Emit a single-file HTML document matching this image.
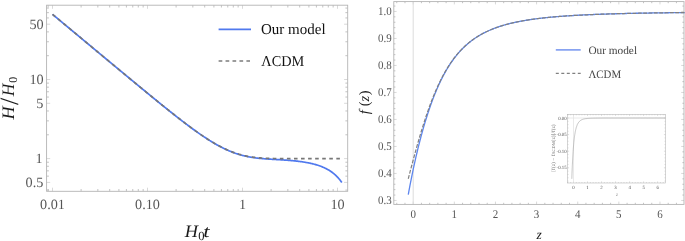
<!DOCTYPE html>
<html><head><meta charset="utf-8"><style>
html,body{margin:0;padding:0;background:#fff;overflow:hidden}
svg{display:block;will-change:transform}
text{font-family:"Liberation Serif",serif;text-rendering:geometricPrecision}
</style></head><body>
<svg width="685" height="241" viewBox="0 0 685 241"><rect width="685" height="241" fill="#fff"/><path d="M48.15 191.30v-2.30M48.15 5.20v2.30M81.10 191.30v-2.30M81.10 5.20v2.30M97.83 191.30v-2.30M97.83 5.20v2.30M109.70 191.30v-2.30M109.70 5.20v2.30M118.90 191.30v-2.30M118.90 5.20v2.30M126.42 191.30v-2.30M126.42 5.20v2.30M132.78 191.30v-2.30M132.78 5.20v2.30M138.29 191.30v-2.30M138.29 5.20v2.30M143.15 191.30v-2.30M143.15 5.20v2.30M176.10 191.30v-2.30M176.10 5.20v2.30M192.83 191.30v-2.30M192.83 5.20v2.30M204.70 191.30v-2.30M204.70 5.20v2.30M213.90 191.30v-2.30M213.90 5.20v2.30M221.42 191.30v-2.30M221.42 5.20v2.30M227.78 191.30v-2.30M227.78 5.20v2.30M233.29 191.30v-2.30M233.29 5.20v2.30M238.15 191.30v-2.30M238.15 5.20v2.30M271.10 191.30v-2.30M271.10 5.20v2.30M287.83 191.30v-2.30M287.83 5.20v2.30M299.70 191.30v-2.30M299.70 5.20v2.30M308.90 191.30v-2.30M308.90 5.20v2.30M316.42 191.30v-2.30M316.42 5.20v2.30M322.78 191.30v-2.30M322.78 5.20v2.30M328.29 191.30v-2.30M328.29 5.20v2.30M333.15 191.30v-2.30M333.15 5.20v2.30M46.60 190.08h2.30M347.70 190.08h-2.30M46.60 176.15h2.30M347.70 176.15h-2.30M46.60 170.85h2.30M347.70 170.85h-2.30M46.60 166.27h2.30M347.70 166.27h-2.30M46.60 162.22h2.30M347.70 162.22h-2.30M46.60 134.79h2.30M347.70 134.79h-2.30M46.60 120.86h2.30M347.70 120.86h-2.30M46.60 110.98h2.30M347.70 110.98h-2.30M46.60 97.05h2.30M347.70 97.05h-2.30M46.60 91.75h2.30M347.70 91.75h-2.30M46.60 87.17h2.30M347.70 87.17h-2.30M46.60 83.12h2.30M347.70 83.12h-2.30M46.60 55.69h2.30M347.70 55.69h-2.30M46.60 41.76h2.30M347.70 41.76h-2.30M46.60 31.88h2.30M347.70 31.88h-2.30M46.60 17.95h2.30M347.70 17.95h-2.30M46.60 12.65h2.30M347.70 12.65h-2.30M46.60 8.07h2.30M347.70 8.07h-2.30" stroke="#b4b4b4" stroke-width="0.8" fill="none"/><path d="M52.50 191.30v-3.60M52.50 5.20v3.60M147.50 191.30v-3.60M147.50 5.20v3.60M242.50 191.30v-3.60M242.50 5.20v3.60M337.50 191.30v-3.60M337.50 5.20v3.60M46.60 182.41h3.60M347.70 182.41h-3.60M46.60 158.60h3.60M347.70 158.60h-3.60M46.60 103.31h3.60M347.70 103.31h-3.60M46.60 79.50h3.60M347.70 79.50h-3.60M46.60 24.21h3.60M347.70 24.21h-3.60" stroke="#cfcfcf" stroke-width="0.8" fill="none"/><rect x="46.6" y="5.2" width="301.09999999999997" height="186.10000000000002" fill="none" stroke="#b4b4b4" stroke-width="0.9"/><polyline points="52.50,14.33 53.23,14.93 53.95,15.53 54.68,16.14 55.40,16.74 56.13,17.34 56.85,17.95 57.58,18.55 58.30,19.16 59.03,19.76 59.75,20.36 60.48,20.97 61.20,21.57 61.93,22.17 62.65,22.78 63.38,23.38 64.10,23.98 64.83,24.59 65.55,25.19 66.28,25.79 67.00,26.40 67.73,27.00 68.45,27.61 69.18,28.21 69.90,28.81 70.63,29.42 71.35,30.02 72.08,30.62 72.80,31.23 73.53,31.83 74.25,32.43 74.98,33.04 75.70,33.64 76.43,34.24 77.15,34.85 77.88,35.45 78.60,36.05 79.33,36.66 80.05,37.26 80.78,37.86 81.50,38.47 82.23,39.07 82.95,39.67 83.68,40.28 84.40,40.88 85.13,41.48 85.85,42.09 86.58,42.69 87.30,43.29 88.03,43.90 88.75,44.50 89.48,45.10 90.20,45.71 90.93,46.31 91.65,46.91 92.38,47.52 93.10,48.12 93.83,48.72 94.55,49.33 95.28,49.93 96.00,50.53 96.73,51.13 97.45,51.74 98.18,52.34 98.90,52.94 99.63,53.55 100.36,54.15 101.08,54.75 101.81,55.35 102.53,55.96 103.26,56.56 103.98,57.16 104.71,57.77 105.43,58.37 106.16,58.97 106.88,59.57 107.61,60.18 108.33,60.78 109.06,61.38 109.78,61.98 110.51,62.58 111.23,63.19 111.96,63.79 112.68,64.39 113.41,64.99 114.13,65.59 114.86,66.20 115.58,66.80 116.31,67.40 117.03,68.00 117.76,68.60 118.48,69.21 119.21,69.81 119.93,70.41 120.66,71.01 121.38,71.61 122.11,72.21 122.83,72.81 123.56,73.41 124.28,74.02 125.01,74.62 125.73,75.22 126.46,75.82 127.18,76.42 127.91,77.02 128.63,77.62 129.36,78.22 130.08,78.82 130.81,79.42 131.53,80.02 132.26,80.62 132.98,81.22 133.71,81.82 134.43,82.42 135.16,83.01 135.88,83.61 136.61,84.21 137.33,84.81 138.06,85.41 138.78,86.01 139.51,86.60 140.23,87.20 140.96,87.80 141.68,88.40 142.41,88.99 143.13,89.59 143.86,90.19 144.58,90.78 145.31,91.38 146.03,91.97 146.76,92.57 147.49,93.16 148.21,93.76 148.94,94.35 149.66,94.95 150.39,95.54 151.11,96.13 151.84,96.73 152.56,97.32 153.29,97.91 154.01,98.50 154.74,99.10 155.46,99.69 156.19,100.28 156.91,100.87 157.64,101.46 158.36,102.05 159.09,102.63 159.81,103.22 160.54,103.81 161.26,104.40 161.99,104.98 162.71,105.57 163.44,106.15 164.16,106.74 164.89,107.32 165.61,107.91 166.34,108.49 167.06,109.07 167.79,109.65 168.51,110.23 169.24,110.81 169.96,111.39 170.69,111.97 171.41,112.54 172.14,113.12 172.86,113.69 173.59,114.27 174.31,114.84 175.04,115.41 175.76,115.98 176.49,116.55 177.21,117.12 177.94,117.68 178.66,118.25 179.39,118.81 180.11,119.38 180.84,119.94 181.56,120.50 182.29,121.06 183.01,121.62 183.74,122.17 184.46,122.73 185.19,123.28 185.91,123.83 186.64,124.38 187.36,124.92 188.09,125.47 188.81,126.01 189.54,126.55 190.26,127.09 190.99,127.63 191.71,128.16 192.44,128.70 193.16,129.23 193.89,129.75 194.62,130.28 195.34,130.80 196.07,131.32 196.79,131.84 197.52,132.36 198.24,132.87 198.97,133.38 199.69,133.88 200.42,134.39 201.14,134.89 201.87,135.38 202.59,135.88 203.32,136.37 204.04,136.85 204.77,137.33 205.49,137.81 206.22,138.29 206.94,138.76 207.67,139.23 208.39,139.69 209.12,140.15 209.84,140.61 210.57,141.06 211.29,141.50 212.02,141.95 212.74,142.38 213.47,142.82 214.19,143.24 214.92,143.67 215.64,144.08 216.37,144.50 217.09,144.90 217.82,145.31 218.54,145.70 219.27,146.10 219.99,146.48 220.72,146.86 221.44,147.24 222.17,147.61 222.89,147.97 223.62,148.33 224.34,148.68 225.07,149.02 225.79,149.36 226.52,149.70 227.24,150.02 227.97,150.34 228.69,150.66 229.42,150.97 230.14,151.27 230.87,151.56 231.59,151.85 232.32,152.13 233.04,152.41 233.77,152.68 234.49,152.94 235.22,153.20 235.94,153.44 236.67,153.69 237.39,153.92 238.12,154.15 238.84,154.38 239.57,154.59 240.29,154.80 241.02,155.01 241.75,155.20 242.47,155.40 243.20,155.58 243.92,155.76 244.65,155.93 245.37,156.10 246.10,156.26 246.82,156.42 247.55,156.57 248.27,156.71 249.00,156.85 249.72,156.98 250.45,157.11 251.17,157.24 251.90,157.35 252.62,157.47 253.35,157.58 254.07,157.68 254.80,157.78 255.52,157.88 256.25,157.97 256.97,158.06 257.70,158.14 258.42,158.22 259.15,158.30 259.87,158.38 260.60,158.45 261.32,158.52 262.05,158.58 262.77,158.64 263.50,158.70 264.22,158.76 264.95,158.82 265.67,158.87 266.40,158.92 267.12,158.97 267.85,159.02 268.57,159.07 269.30,159.12 270.02,159.16 270.75,159.21 271.47,159.25 272.20,159.29 272.92,159.34 273.65,159.38 274.37,159.42 275.10,159.46 275.82,159.50 276.55,159.54 277.27,159.58 278.00,159.63 278.72,159.67 279.45,159.71 280.17,159.75 280.90,159.80 281.62,159.84 282.35,159.89 283.07,159.94 283.80,159.98 284.52,160.03 285.25,160.08 285.97,160.13 286.70,160.19 287.42,160.24 288.15,160.29 288.88,160.35 289.60,160.41 290.33,160.47 291.05,160.54 291.78,160.60 292.50,160.67 293.23,160.74 293.95,160.81 294.68,160.88 295.40,160.96 296.13,161.04 296.85,161.12 297.58,161.20 298.30,161.29 299.03,161.38 299.75,161.47 300.48,161.57 301.20,161.67 301.93,161.77 302.65,161.88 303.38,161.99 304.10,162.10 304.83,162.22 305.55,162.35 306.28,162.47 307.00,162.61 307.73,162.74 308.45,162.88 309.18,163.03 309.90,163.18 310.63,163.34 311.35,163.51 312.08,163.68 312.80,163.85 313.53,164.03 314.25,164.22 314.98,164.42 315.70,164.63 316.43,164.84 317.15,165.06 317.88,165.29 318.60,165.53 319.33,165.77 320.05,166.03 320.78,166.30 321.50,166.58 322.23,166.87 322.95,167.17 323.68,167.48 324.40,167.81 325.13,168.15 325.85,168.51 326.58,168.88 327.30,169.27 328.03,169.67 328.75,170.09 329.48,170.53 330.20,171.00 330.93,171.48 331.65,171.98 332.38,172.51 333.10,173.07 333.83,173.65 334.55,174.27 335.28,174.91 336.01,175.59 336.73,176.30 337.46,177.05 338.18,177.85 338.91,178.69 339.63,179.58 340.36,180.52 341.08,181.52 341.81,182.58" fill="none" stroke="#5079ee" stroke-width="1.7" stroke-linejoin="round"/><polyline points="52.50,14.33 53.22,14.93 53.94,15.53 54.66,16.13 55.38,16.72 56.10,17.32 56.82,17.92 57.54,18.52 58.26,19.12 58.98,19.72 59.70,20.32 60.42,20.92 61.14,21.52 61.86,22.12 62.58,22.72 63.30,23.32 64.02,23.92 64.75,24.52 65.47,25.12 66.19,25.72 66.91,26.32 67.63,26.92 68.35,27.52 69.07,28.12 69.79,28.72 70.51,29.32 71.23,29.92 71.95,30.52 72.67,31.12 73.39,31.71 74.11,32.31 74.83,32.91 75.55,33.51 76.27,34.11 76.99,34.71 77.71,35.31 78.43,35.91 79.15,36.51 79.87,37.11 80.59,37.71 81.31,38.31 82.03,38.91 82.75,39.51 83.47,40.11 84.19,40.71 84.91,41.31 85.63,41.90 86.35,42.50 87.07,43.10 87.80,43.70 88.52,44.30 89.24,44.90 89.96,45.50 90.68,46.10 91.40,46.70 92.12,47.30 92.84,47.90 93.56,48.50 94.28,49.10 95.00,49.69 95.72,50.29 96.44,50.89 97.16,51.49 97.88,52.09 98.60,52.69 99.32,53.29 100.04,53.89 100.76,54.49 101.48,55.08 102.20,55.68 102.92,56.28 103.64,56.88 104.36,57.48 105.08,58.08 105.80,58.68 106.52,59.28 107.24,59.87 107.96,60.47 108.68,61.07 109.40,61.67 110.12,62.27 110.85,62.87 111.57,63.46 112.29,64.06 113.01,64.66 113.73,65.26 114.45,65.86 115.17,66.45 115.89,67.05 116.61,67.65 117.33,68.25 118.05,68.84 118.77,69.44 119.49,70.04 120.21,70.64 120.93,71.23 121.65,71.83 122.37,72.43 123.09,73.03 123.81,73.62 124.53,74.22 125.25,74.82 125.97,75.41 126.69,76.01 127.41,76.61 128.13,77.20 128.85,77.80 129.57,78.39 130.29,78.99 131.01,79.59 131.73,80.18 132.45,80.78 133.17,81.37 133.90,81.97 134.62,82.56 135.34,83.16 136.06,83.75 136.78,84.35 137.50,84.94 138.22,85.54 138.94,86.13 139.66,86.72 140.38,87.32 141.10,87.91 141.82,88.50 142.54,89.10 143.26,89.69 143.98,90.28 144.70,90.87 145.42,91.47 146.14,92.06 146.86,92.65 147.58,93.24 148.30,93.83 149.02,94.42 149.74,95.01 150.46,95.60 151.18,96.19 151.90,96.78 152.62,97.37 153.34,97.95 154.06,98.54 154.78,99.13 155.50,99.72 156.22,100.30 156.95,100.89 157.67,101.47 158.39,102.06 159.11,102.64 159.83,103.23 160.55,103.81 161.27,104.39 161.99,104.98 162.71,105.56 163.43,106.14 164.15,106.72 164.87,107.30 165.59,107.88 166.31,108.46 167.03,109.03 167.75,109.61 168.47,110.19 169.19,110.76 169.91,111.34 170.63,111.91 171.35,112.48 172.07,113.05 172.79,113.63 173.51,114.19 174.23,114.76 174.95,115.33 175.67,115.90 176.39,116.46 177.11,117.03 177.83,117.59 178.55,118.15 179.27,118.71 180.00,119.27 180.72,119.83 181.44,120.38 182.16,120.94 182.88,121.49 183.60,122.04 184.32,122.59 185.04,123.14 185.76,123.69 186.48,124.24 187.20,124.78 187.92,125.32 188.64,125.86 189.36,126.40 190.08,126.93 190.80,127.47 191.52,128.00 192.24,128.53 192.96,129.05 193.68,129.58 194.40,130.10 195.12,130.62 195.84,131.13 196.56,131.65 197.28,132.16 198.00,132.67 198.72,133.17 199.44,133.68 200.16,134.18 200.88,134.67 201.60,135.17 202.32,135.66 203.04,136.14 203.77,136.63 204.49,137.10 205.21,137.58 205.93,138.05 206.65,138.52 207.37,138.99 208.09,139.45 208.81,139.90 209.53,140.36 210.25,140.80 210.97,141.25 211.69,141.69 212.41,142.12 213.13,142.55 213.85,142.98 214.57,143.40 215.29,143.81 216.01,144.22 216.73,144.63 217.45,145.03 218.17,145.42 218.89,145.81 219.61,146.20 220.33,146.58 221.05,146.95 221.77,147.31 222.49,147.68 223.21,148.03 223.93,148.38 224.65,148.72 225.37,149.06 226.09,149.39 226.82,149.72 227.54,150.04 228.26,150.35 228.98,150.65 229.70,150.95 230.42,151.25 231.14,151.53 231.86,151.81 232.58,152.09 233.30,152.35 234.02,152.61 234.74,152.86 235.46,153.11 236.18,153.35 236.90,153.59 237.62,153.81 238.34,154.03 239.06,154.25 239.78,154.45 240.50,154.65 241.22,154.85 241.94,155.04 242.66,155.22 243.38,155.39 244.10,155.56 244.82,155.72 245.54,155.88 246.26,156.03 246.98,156.18 247.70,156.31 248.42,156.45 249.14,156.57 249.87,156.70 250.59,156.81 251.31,156.92 252.03,157.03 252.75,157.13 253.47,157.23 254.19,157.32 254.91,157.41 255.63,157.49 256.35,157.57 257.07,157.64 257.79,157.71 258.51,157.77 259.23,157.84 259.95,157.89 260.67,157.95 261.39,158.00 262.11,158.05 262.83,158.09 263.55,158.14 264.27,158.17 264.99,158.21 265.71,158.25 266.43,158.28 267.15,158.31 267.87,158.33 268.59,158.36 269.31,158.38 270.03,158.40 270.75,158.42 271.47,158.44 272.19,158.46 272.92,158.47 273.64,158.48 274.36,158.50 275.08,158.51 275.80,158.52 276.52,158.53 277.24,158.53 277.96,158.54 278.68,158.55 279.40,158.56 280.12,158.56 280.84,158.57 281.56,158.57 282.28,158.57 283.00,158.58 283.72,158.58 284.44,158.58 285.16,158.59 285.88,158.59 286.60,158.59 287.32,158.59 288.04,158.59 288.76,158.59 289.48,158.59 290.20,158.60 290.92,158.60 291.64,158.60 292.36,158.60 293.08,158.60 293.80,158.60 294.52,158.60 295.24,158.60 295.97,158.60 296.69,158.60 297.41,158.60 298.13,158.60 298.85,158.60 299.57,158.60 300.29,158.60 301.01,158.60 301.73,158.60 302.45,158.60 303.17,158.60 303.89,158.60 304.61,158.60 305.33,158.60 306.05,158.60 306.77,158.60 307.49,158.60 308.21,158.60 308.93,158.60 309.65,158.60 310.37,158.60 311.09,158.60 311.81,158.60 312.53,158.60 313.25,158.60 313.97,158.60 314.69,158.60 315.41,158.60 316.13,158.60 316.85,158.60 317.57,158.60 318.29,158.60 319.02,158.60 319.74,158.60 320.46,158.60 321.18,158.60 321.90,158.60 322.62,158.60 323.34,158.60 324.06,158.60 324.78,158.60 325.50,158.60 326.22,158.60 326.94,158.60 327.66,158.60 328.38,158.60 329.10,158.60 329.82,158.60 330.54,158.60 331.26,158.60 331.98,158.60 332.70,158.60 333.42,158.60 334.14,158.60 334.86,158.60 335.58,158.60 336.30,158.60 337.02,158.60 337.74,158.60 338.46,158.60 339.18,158.60 339.90,158.60" fill="none" stroke="#777777" stroke-width="1.7" stroke-dasharray="3.6 3.46"/><text x="52.50" y="208.90" font-family="Liberation Serif" font-size="14.2" fill="#555555" text-anchor="middle"  >0.01</text><text x="147.50" y="208.90" font-family="Liberation Serif" font-size="14.2" fill="#555555" text-anchor="middle"  >0.10</text><text x="242.50" y="208.90" font-family="Liberation Serif" font-size="14.2" fill="#555555" text-anchor="middle"  >1</text><text x="337.50" y="208.90" font-family="Liberation Serif" font-size="14.2" fill="#555555" text-anchor="middle"  >10</text><text x="43.70" y="28.61" font-family="Liberation Serif" font-size="14.2" fill="#555555" text-anchor="end"  >50</text><text x="43.60" y="83.90" font-family="Liberation Serif" font-size="14.2" fill="#555555" text-anchor="end"  >10</text><text x="43.40" y="107.71" font-family="Liberation Serif" font-size="14.2" fill="#555555" text-anchor="end"  >5</text><text x="42.60" y="163.00" font-family="Liberation Serif" font-size="14.2" fill="#555555" text-anchor="end"  >1</text><text x="43.30" y="186.81" font-family="Liberation Serif" font-size="14.2" fill="#555555" text-anchor="end"  >0.5</text><text transform="translate(184.7,236.6) scale(1.05,1)" font-size="17.5" font-style="italic" fill="#1a1a1a">H</text><text x="198.3" y="240.1" font-size="12.5" fill="#1a1a1a">0</text><text transform="translate(203.3,236.6) scale(1.3,1)" font-size="17.5" font-style="italic" fill="#1a1a1a">t</text><g transform="translate(13.6,121) rotate(-90)" fill="#1a1a1a" font-size="17"><text transform="translate(1.6,0) scale(1.04,1)" font-size="17.5" font-style="italic">H</text><text x="15.9" y="4.83" font-size="26.5">/</text><text transform="translate(24.8,0) scale(1.0,1)" font-size="17.5" font-style="italic">H</text><text x="38.2" y="3.2" font-size="12">0</text></g><line x1="218.6" y1="29.3" x2="251" y2="29.3" stroke="#5079ee" stroke-width="1.7"/><line x1="218.6" y1="61.1" x2="250" y2="61.1" stroke="#7c7c7c" stroke-width="1.5" stroke-dasharray="3.7 3.25"/><text x="261.00" y="34.40" font-family="Liberation Serif" font-size="15" fill="#111" text-anchor="start"  >Our model</text><text transform="translate(261.30,65.50) scale(0.953,1)" font-family="Liberation Serif" font-size="15" fill="#111" text-anchor="start"  >&#923;CDM</text><path d="M396.75 204.40v-1.60M396.75 1.60v1.60M404.97 204.40v-1.60M404.97 1.60v1.60M421.43 204.40v-1.60M421.43 1.60v1.60M429.65 204.40v-1.60M429.65 1.60v1.60M437.88 204.40v-1.60M437.88 1.60v1.60M446.10 204.40v-1.60M446.10 1.60v1.60M462.56 204.40v-1.60M462.56 1.60v1.60M470.78 204.40v-1.60M470.78 1.60v1.60M479.01 204.40v-1.60M479.01 1.60v1.60M487.23 204.40v-1.60M487.23 1.60v1.60M503.69 204.40v-1.60M503.69 1.60v1.60M511.91 204.40v-1.60M511.91 1.60v1.60M520.14 204.40v-1.60M520.14 1.60v1.60M528.36 204.40v-1.60M528.36 1.60v1.60M544.82 204.40v-1.60M544.82 1.60v1.60M553.04 204.40v-1.60M553.04 1.60v1.60M561.27 204.40v-1.60M561.27 1.60v1.60M569.49 204.40v-1.60M569.49 1.60v1.60M585.95 204.40v-1.60M585.95 1.60v1.60M594.17 204.40v-1.60M594.17 1.60v1.60M602.40 204.40v-1.60M602.40 1.60v1.60M610.62 204.40v-1.60M610.62 1.60v1.60M627.08 204.40v-1.60M627.08 1.60v1.60M635.30 204.40v-1.60M635.30 1.60v1.60M643.53 204.40v-1.60M643.53 1.60v1.60M651.75 204.40v-1.60M651.75 1.60v1.60M668.21 204.40v-1.60M668.21 1.60v1.60M676.43 204.40v-1.60M676.43 1.60v1.60M393.80 195.05h1.60M684.00 195.05h-1.60M393.80 189.65h1.60M684.00 189.65h-1.60M393.80 184.25h1.60M684.00 184.25h-1.60M393.80 178.85h1.60M684.00 178.85h-1.60M393.80 168.05h1.60M684.00 168.05h-1.60M393.80 162.65h1.60M684.00 162.65h-1.60M393.80 157.25h1.60M684.00 157.25h-1.60M393.80 151.85h1.60M684.00 151.85h-1.60M393.80 141.05h1.60M684.00 141.05h-1.60M393.80 135.65h1.60M684.00 135.65h-1.60M393.80 130.25h1.60M684.00 130.25h-1.60M393.80 124.85h1.60M684.00 124.85h-1.60M393.80 114.05h1.60M684.00 114.05h-1.60M393.80 108.65h1.60M684.00 108.65h-1.60M393.80 103.25h1.60M684.00 103.25h-1.60M393.80 97.85h1.60M684.00 97.85h-1.60M393.80 87.05h1.60M684.00 87.05h-1.60M393.80 81.65h1.60M684.00 81.65h-1.60M393.80 76.25h1.60M684.00 76.25h-1.60M393.80 70.85h1.60M684.00 70.85h-1.60M393.80 60.05h1.60M684.00 60.05h-1.60M393.80 54.65h1.60M684.00 54.65h-1.60M393.80 49.25h1.60M684.00 49.25h-1.60M393.80 43.85h1.60M684.00 43.85h-1.60M393.80 33.05h1.60M684.00 33.05h-1.60M393.80 27.65h1.60M684.00 27.65h-1.60M393.80 22.25h1.60M684.00 22.25h-1.60M393.80 16.85h1.60M684.00 16.85h-1.60M393.80 6.05h1.60M684.00 6.05h-1.60" stroke="#b4b4b4" stroke-width="0.8" fill="none"/><path d="M413.20 204.40v-2.80M413.20 1.60v2.80M454.33 204.40v-2.80M454.33 1.60v2.80M495.46 204.40v-2.80M495.46 1.60v2.80M536.59 204.40v-2.80M536.59 1.60v2.80M577.72 204.40v-2.80M577.72 1.60v2.80M618.85 204.40v-2.80M618.85 1.60v2.80M659.98 204.40v-2.80M659.98 1.60v2.80M393.80 200.45h2.80M684.00 200.45h-2.80M393.80 173.45h2.80M684.00 173.45h-2.80M393.80 146.45h2.80M684.00 146.45h-2.80M393.80 119.45h2.80M684.00 119.45h-2.80M393.80 92.45h2.80M684.00 92.45h-2.80M393.80 65.45h2.80M684.00 65.45h-2.80M393.80 38.45h2.80M684.00 38.45h-2.80M393.80 11.45h2.80M684.00 11.45h-2.80" stroke="#cfcfcf" stroke-width="0.8" fill="none"/><line x1="413.20" y1="1.6" x2="413.20" y2="204.4" stroke="#dcdcdc" stroke-width="1"/><rect x="393.8" y="1.6" width="290.2" height="202.8" fill="none" stroke="#b4b4b4" stroke-width="0.9"/><polyline points="408.26,194.64 408.82,191.62 409.37,188.65 409.93,185.73 410.48,182.85 411.03,180.03 411.59,177.26 412.14,174.53 412.70,171.85 413.25,169.22 413.80,166.63 414.36,164.09 414.91,161.58 415.47,159.13 416.02,156.71 416.57,154.33 417.13,151.99 417.68,149.69 418.23,147.42 418.79,145.19 419.34,143.00 419.90,140.85 420.45,138.72 421.00,136.64 421.56,134.58 422.11,132.56 422.67,130.57 423.22,128.61 423.77,126.68 424.33,124.79 424.88,122.92 425.44,121.08 425.99,119.28 426.54,117.50 427.10,115.75 427.65,114.03 428.20,112.34 428.76,110.67 429.31,109.03 429.87,107.42 430.42,105.84 430.97,104.28 431.53,102.75 432.08,101.24 432.64,99.76 433.19,98.30 433.74,96.87 434.30,95.46 434.85,94.07 435.41,92.71 435.96,91.38 436.51,90.06 437.07,88.77 437.62,87.50 438.17,86.25 438.73,85.02 439.28,83.82 439.84,82.64 440.39,81.47 440.94,80.33 441.50,79.21 442.05,78.10 442.61,77.02 443.16,75.96 443.71,74.91 444.27,73.88 444.82,72.87 445.38,71.88 445.93,70.91 446.48,69.96 447.04,69.02 447.59,68.10 448.14,67.19 448.70,66.30 449.25,65.43 449.81,64.57 450.36,63.73 450.91,62.90 451.47,62.09 452.02,61.30 452.58,60.51 453.13,59.75 453.68,58.99 454.24,58.25 454.79,57.52 455.35,56.81 455.90,56.11 456.45,55.42 457.01,54.74 457.56,54.08 458.11,53.43 458.67,52.79 459.22,52.16 459.78,51.54 460.33,50.93 460.88,50.34 461.44,49.75 461.99,49.18 462.55,48.61 463.10,48.06 463.65,47.51 464.21,46.98 464.76,46.45 465.32,45.94 465.87,45.43 466.42,44.94 466.98,44.45 467.53,43.97 468.09,43.49 468.64,43.03 469.19,42.58 469.75,42.13 470.30,41.69 470.85,41.26 471.41,40.83 471.96,40.42 472.52,40.01 473.07,39.61 473.62,39.21 474.18,38.82 474.73,38.44 475.29,38.06 475.84,37.69 476.39,37.33 476.95,36.98 477.50,36.63 478.06,36.28 478.61,35.94 479.16,35.61 479.72,35.28 480.27,34.96 480.82,34.64 481.38,34.33 481.93,34.03 482.49,33.73 483.04,33.43 483.59,33.14 484.15,32.86 484.70,32.57 485.26,32.30 485.81,32.03 486.36,31.76 486.92,31.49 487.47,31.24 488.03,30.98 488.58,30.73 489.13,30.48 489.69,30.24 490.24,30.00 490.79,29.77 491.35,29.54 491.90,29.31 492.46,29.09 493.01,28.87 493.56,28.65 494.12,28.44 494.67,28.23 495.23,28.02 495.78,27.82 496.33,27.62 496.89,27.42 497.44,27.22 498.00,27.03 498.55,26.85 499.10,26.66 499.66,26.48 500.21,26.30 500.76,26.12 501.32,25.95 501.87,25.78 502.43,25.61 502.98,25.44 503.53,25.28 504.09,25.12 504.64,24.96 505.20,24.80 505.75,24.65 506.30,24.49 506.86,24.34 507.41,24.20 507.97,24.05 508.52,23.91 509.07,23.77 509.63,23.63 510.18,23.49 510.73,23.36 511.29,23.22 511.84,23.09 512.40,22.96 512.95,22.83 513.50,22.71 514.06,22.58 514.61,22.46 515.17,22.34 515.72,22.22 516.27,22.11 516.83,21.99 517.38,21.88 517.94,21.76 518.49,21.65 519.04,21.55 519.60,21.44 520.15,21.33 520.71,21.23 521.26,21.12 521.81,21.02 522.37,20.92 522.92,20.82 523.47,20.72 524.03,20.63 524.58,20.53 525.14,20.44 525.69,20.35 526.24,20.26 526.80,20.17 527.35,20.08 527.91,19.99 528.46,19.90 529.01,19.82 529.57,19.73 530.12,19.65 530.68,19.57 531.23,19.49 531.78,19.41 532.34,19.33 532.89,19.25 533.44,19.17 534.00,19.10 534.55,19.02 535.11,18.95 535.66,18.88 536.21,18.80 536.77,18.73 537.32,18.66 537.88,18.59 538.43,18.52 538.98,18.46 539.54,18.39 540.09,18.32 540.65,18.26 541.20,18.19 541.75,18.13 542.31,18.07 542.86,18.00 543.41,17.94 543.97,17.88 544.52,17.82 545.08,17.76 545.63,17.71 546.18,17.65 546.74,17.59 547.29,17.54 547.85,17.48 548.40,17.42 548.95,17.37 549.51,17.32 550.06,17.26 550.62,17.21 551.17,17.16 551.72,17.11 552.28,17.06 552.83,17.01 553.38,16.96 553.94,16.91 554.49,16.86 555.05,16.81 555.60,16.77 556.15,16.72 556.71,16.67 557.26,16.63 557.82,16.58 558.37,16.54 558.92,16.50 559.48,16.45 560.03,16.41 560.59,16.37 561.14,16.32 561.69,16.28 562.25,16.24 562.80,16.20 563.35,16.16 563.91,16.12 564.46,16.08 565.02,16.04 565.57,16.00 566.12,15.97 566.68,15.93 567.23,15.89 567.79,15.86 568.34,15.82 568.89,15.78 569.45,15.75 570.00,15.71 570.56,15.68 571.11,15.64 571.66,15.61 572.22,15.58 572.77,15.54 573.33,15.51 573.88,15.48 574.43,15.44 574.99,15.41 575.54,15.38 576.09,15.35 576.65,15.32 577.20,15.29 577.76,15.26 578.31,15.23 578.86,15.20 579.42,15.17 579.97,15.14 580.53,15.11 581.08,15.08 581.63,15.05 582.19,15.03 582.74,15.00 583.30,14.97 583.85,14.94 584.40,14.92 584.96,14.89 585.51,14.86 586.06,14.84 586.62,14.81 587.17,14.79 587.73,14.76 588.28,14.74 588.83,14.71 589.39,14.69 589.94,14.66 590.50,14.64 591.05,14.62 591.60,14.59 592.16,14.57 592.71,14.55 593.27,14.52 593.82,14.50 594.37,14.48 594.93,14.46 595.48,14.43 596.03,14.41 596.59,14.39 597.14,14.37 597.70,14.35 598.25,14.33 598.80,14.31 599.36,14.29 599.91,14.27 600.47,14.25 601.02,14.23 601.57,14.21 602.13,14.19 602.68,14.17 603.24,14.15 603.79,14.13 604.34,14.11 604.90,14.09 605.45,14.07 606.00,14.05 606.56,14.04 607.11,14.02 607.67,14.00 608.22,13.98 608.77,13.96 609.33,13.95 609.88,13.93 610.44,13.91 610.99,13.90 611.54,13.88 612.10,13.86 612.65,13.85 613.21,13.83 613.76,13.81 614.31,13.80 614.87,13.78 615.42,13.77 615.98,13.75 616.53,13.74 617.08,13.72 617.64,13.71 618.19,13.69 618.74,13.68 619.30,13.66 619.85,13.65 620.41,13.63 620.96,13.62 621.51,13.60 622.07,13.59 622.62,13.57 623.18,13.56 623.73,13.55 624.28,13.53 624.84,13.52 625.39,13.51 625.95,13.49 626.50,13.48 627.05,13.47 627.61,13.45 628.16,13.44 628.71,13.43 629.27,13.42 629.82,13.40 630.38,13.39 630.93,13.38 631.48,13.37 632.04,13.35 632.59,13.34 633.15,13.33 633.70,13.32 634.25,13.31 634.81,13.30 635.36,13.28 635.92,13.27 636.47,13.26 637.02,13.25 637.58,13.24 638.13,13.23 638.68,13.22 639.24,13.21 639.79,13.19 640.35,13.18 640.90,13.17 641.45,13.16 642.01,13.15 642.56,13.14 643.12,13.13 643.67,13.12 644.22,13.11 644.78,13.10 645.33,13.09 645.89,13.08 646.44,13.07 646.99,13.06 647.55,13.05 648.10,13.04 648.65,13.03 649.21,13.02 649.76,13.02 650.32,13.01 650.87,13.00 651.42,12.99 651.98,12.98 652.53,12.97 653.09,12.96 653.64,12.95 654.19,12.94 654.75,12.93 655.30,12.93 655.86,12.92 656.41,12.91 656.96,12.90 657.52,12.89 658.07,12.88 658.62,12.88 659.18,12.87 659.73,12.86 660.29,12.85 660.84,12.84 661.39,12.84 661.95,12.83 662.50,12.82 663.06,12.81 663.61,12.80 664.16,12.80 664.72,12.79 665.27,12.78 665.83,12.77 666.38,12.77 666.93,12.76 667.49,12.75 668.04,12.74 668.60,12.74 669.15,12.73 669.70,12.72 670.26,12.72 670.81,12.71 671.36,12.70 671.92,12.70 672.47,12.69 673.03,12.68 673.58,12.67 674.13,12.67 674.69,12.66 675.24,12.65 675.80,12.65 676.35,12.64 676.90,12.64 677.46,12.63 678.01,12.62 678.57,12.62 679.12,12.61 679.67,12.60 680.23,12.60 680.78,12.59 681.33,12.59 681.89,12.58 682.44,12.57 683.00,12.57 683.55,12.56 684.10,12.56 684.66,12.55" fill="none" stroke="#5d86ee" stroke-width="1.3" stroke-linejoin="round"/><polyline points="408.26,178.75 408.82,176.61 409.37,174.47 409.93,172.34 410.48,170.22 411.03,168.11 411.59,166.00 412.14,163.91 412.70,161.82 413.25,159.75 413.80,157.69 414.36,155.64 414.91,153.61 415.47,151.59 416.02,149.58 416.57,147.59 417.13,145.62 417.68,143.66 418.23,141.72 418.79,139.80 419.34,137.90 419.90,136.01 420.45,134.14 421.00,132.29 421.56,130.47 422.11,128.66 422.67,126.87 423.22,125.10 423.77,123.35 424.33,121.62 424.88,119.91 425.44,118.23 425.99,116.56 426.54,114.92 427.10,113.30 427.65,111.69 428.20,110.11 428.76,108.55 429.31,107.02 429.87,105.50 430.42,104.01 430.97,102.53 431.53,101.08 432.08,99.65 432.64,98.24 433.19,96.85 433.74,95.49 434.30,94.14 434.85,92.82 435.41,91.51 435.96,90.23 436.51,88.96 437.07,87.72 437.62,86.49 438.17,85.29 438.73,84.10 439.28,82.94 439.84,81.79 440.39,80.66 440.94,79.55 441.50,78.46 442.05,77.39 442.61,76.34 443.16,75.30 443.71,74.28 444.27,73.28 444.82,72.30 445.38,71.33 445.93,70.38 446.48,69.44 447.04,68.52 447.59,67.62 448.14,66.74 448.70,65.86 449.25,65.01 449.81,64.17 450.36,63.34 450.91,62.53 451.47,61.73 452.02,60.95 452.58,60.18 453.13,59.42 453.68,58.68 454.24,57.95 454.79,57.24 455.35,56.53 455.90,55.84 456.45,55.16 457.01,54.49 457.56,53.84 458.11,53.19 458.67,52.56 459.22,51.94 459.78,51.33 460.33,50.73 460.88,50.14 461.44,49.56 461.99,49.00 462.55,48.44 463.10,47.89 463.65,47.35 464.21,46.82 464.76,46.30 465.32,45.79 465.87,45.29 466.42,44.80 466.98,44.31 467.53,43.84 468.09,43.37 468.64,42.91 469.19,42.46 469.75,42.02 470.30,41.58 470.85,41.15 471.41,40.73 471.96,40.32 472.52,39.91 473.07,39.51 473.62,39.12 474.18,38.73 474.73,38.35 475.29,37.98 475.84,37.61 476.39,37.25 476.95,36.90 477.50,36.55 478.06,36.21 478.61,35.87 479.16,35.54 479.72,35.22 480.27,34.90 480.82,34.58 481.38,34.27 481.93,33.97 482.49,33.67 483.04,33.38 483.59,33.09 484.15,32.80 484.70,32.52 485.26,32.25 485.81,31.98 486.36,31.71 486.92,31.45 487.47,31.19 488.03,30.94 488.58,30.69 489.13,30.44 489.69,30.20 490.24,29.96 490.79,29.73 491.35,29.50 491.90,29.27 492.46,29.05 493.01,28.83 493.56,28.62 494.12,28.40 494.67,28.20 495.23,27.99 495.78,27.79 496.33,27.59 496.89,27.39 497.44,27.20 498.00,27.01 498.55,26.82 499.10,26.64 499.66,26.45 500.21,26.27 500.76,26.10 501.32,25.92 501.87,25.75 502.43,25.59 502.98,25.42 503.53,25.26 504.09,25.10 504.64,24.94 505.20,24.78 505.75,24.63 506.30,24.48 506.86,24.33 507.41,24.18 507.97,24.03 508.52,23.89 509.07,23.75 509.63,23.61 510.18,23.47 510.73,23.34 511.29,23.21 511.84,23.08 512.40,22.95 512.95,22.82 513.50,22.69 514.06,22.57 514.61,22.45 515.17,22.33 515.72,22.21 516.27,22.09 516.83,21.98 517.38,21.87 517.94,21.75 518.49,21.64 519.04,21.53 519.60,21.43 520.15,21.32 520.71,21.22 521.26,21.11 521.81,21.01 522.37,20.91 522.92,20.81 523.47,20.72 524.03,20.62 524.58,20.52 525.14,20.43 525.69,20.34 526.24,20.25 526.80,20.16 527.35,20.07 527.91,19.98 528.46,19.90 529.01,19.81 529.57,19.73 530.12,19.64 530.68,19.56 531.23,19.48 531.78,19.40 532.34,19.32 532.89,19.24 533.44,19.17 534.00,19.09 534.55,19.02 535.11,18.94 535.66,18.87 536.21,18.80 536.77,18.73 537.32,18.66 537.88,18.59 538.43,18.52 538.98,18.45 539.54,18.38 540.09,18.32 540.65,18.25 541.20,18.19 541.75,18.13 542.31,18.06 542.86,18.00 543.41,17.94 543.97,17.88 544.52,17.82 545.08,17.76 545.63,17.70 546.18,17.64 546.74,17.59 547.29,17.53 547.85,17.48 548.40,17.42 548.95,17.37 549.51,17.31 550.06,17.26 550.62,17.21 551.17,17.16 551.72,17.11 552.28,17.05 552.83,17.00 553.38,16.96 553.94,16.91 554.49,16.86 555.05,16.81 555.60,16.76 556.15,16.72 556.71,16.67 557.26,16.63 557.82,16.58 558.37,16.54 558.92,16.49 559.48,16.45 560.03,16.41 560.59,16.36 561.14,16.32 561.69,16.28 562.25,16.24 562.80,16.20 563.35,16.16 563.91,16.12 564.46,16.08 565.02,16.04 565.57,16.00 566.12,15.96 566.68,15.93 567.23,15.89 567.79,15.85 568.34,15.82 568.89,15.78 569.45,15.75 570.00,15.71 570.56,15.68 571.11,15.64 571.66,15.61 572.22,15.57 572.77,15.54 573.33,15.51 573.88,15.47 574.43,15.44 574.99,15.41 575.54,15.38 576.09,15.35 576.65,15.32 577.20,15.29 577.76,15.26 578.31,15.23 578.86,15.20 579.42,15.17 579.97,15.14 580.53,15.11 581.08,15.08 581.63,15.05 582.19,15.02 582.74,15.00 583.30,14.97 583.85,14.94 584.40,14.92 584.96,14.89 585.51,14.86 586.06,14.84 586.62,14.81 587.17,14.79 587.73,14.76 588.28,14.74 588.83,14.71 589.39,14.69 589.94,14.66 590.50,14.64 591.05,14.61 591.60,14.59 592.16,14.57 592.71,14.54 593.27,14.52 593.82,14.50 594.37,14.48 594.93,14.45 595.48,14.43 596.03,14.41 596.59,14.39 597.14,14.37 597.70,14.35 598.25,14.33 598.80,14.31 599.36,14.28 599.91,14.26 600.47,14.24 601.02,14.22 601.57,14.20 602.13,14.19 602.68,14.17 603.24,14.15 603.79,14.13 604.34,14.11 604.90,14.09 605.45,14.07 606.00,14.05 606.56,14.04 607.11,14.02 607.67,14.00 608.22,13.98 608.77,13.96 609.33,13.95 609.88,13.93 610.44,13.91 610.99,13.90 611.54,13.88 612.10,13.86 612.65,13.85 613.21,13.83 613.76,13.81 614.31,13.80 614.87,13.78 615.42,13.77 615.98,13.75 616.53,13.74 617.08,13.72 617.64,13.70 618.19,13.69 618.74,13.67 619.30,13.66 619.85,13.65 620.41,13.63 620.96,13.62 621.51,13.60 622.07,13.59 622.62,13.57 623.18,13.56 623.73,13.55 624.28,13.53 624.84,13.52 625.39,13.51 625.95,13.49 626.50,13.48 627.05,13.47 627.61,13.45 628.16,13.44 628.71,13.43 629.27,13.42 629.82,13.40 630.38,13.39 630.93,13.38 631.48,13.37 632.04,13.35 632.59,13.34 633.15,13.33 633.70,13.32 634.25,13.31 634.81,13.29 635.36,13.28 635.92,13.27 636.47,13.26 637.02,13.25 637.58,13.24 638.13,13.23 638.68,13.22 639.24,13.21 639.79,13.19 640.35,13.18 640.90,13.17 641.45,13.16 642.01,13.15 642.56,13.14 643.12,13.13 643.67,13.12 644.22,13.11 644.78,13.10 645.33,13.09 645.89,13.08 646.44,13.07 646.99,13.06 647.55,13.05 648.10,13.04 648.65,13.03 649.21,13.02 649.76,13.01 650.32,13.01 650.87,13.00 651.42,12.99 651.98,12.98 652.53,12.97 653.09,12.96 653.64,12.95 654.19,12.94 654.75,12.93 655.30,12.93 655.86,12.92 656.41,12.91 656.96,12.90 657.52,12.89 658.07,12.88 658.62,12.88 659.18,12.87 659.73,12.86 660.29,12.85 660.84,12.84 661.39,12.83 661.95,12.83 662.50,12.82 663.06,12.81 663.61,12.80 664.16,12.80 664.72,12.79 665.27,12.78 665.83,12.77 666.38,12.77 666.93,12.76 667.49,12.75 668.04,12.74 668.60,12.74 669.15,12.73 669.70,12.72 670.26,12.72 670.81,12.71 671.36,12.70 671.92,12.70 672.47,12.69 673.03,12.68 673.58,12.67 674.13,12.67 674.69,12.66 675.24,12.65 675.80,12.65 676.35,12.64 676.90,12.64 677.46,12.63 678.01,12.62 678.57,12.62 679.12,12.61 679.67,12.60 680.23,12.60 680.78,12.59 681.33,12.59 681.89,12.58 682.44,12.57 683.00,12.57 683.55,12.56 684.10,12.56 684.66,12.55" fill="none" stroke="#808080" stroke-width="1.2" stroke-dasharray="3.8 1.536"/><text transform="translate(413.20,218.20) scale(0.93,1)" font-family="Liberation Serif" font-size="11.8" fill="#555555" text-anchor="middle"  >0</text><text transform="translate(454.33,218.20) scale(0.93,1)" font-family="Liberation Serif" font-size="11.8" fill="#555555" text-anchor="middle"  >1</text><text transform="translate(495.46,218.20) scale(0.93,1)" font-family="Liberation Serif" font-size="11.8" fill="#555555" text-anchor="middle"  >2</text><text transform="translate(536.59,218.20) scale(0.93,1)" font-family="Liberation Serif" font-size="11.8" fill="#555555" text-anchor="middle"  >3</text><text transform="translate(577.72,218.20) scale(0.93,1)" font-family="Liberation Serif" font-size="11.8" fill="#555555" text-anchor="middle"  >4</text><text transform="translate(618.85,218.20) scale(0.93,1)" font-family="Liberation Serif" font-size="11.8" fill="#555555" text-anchor="middle"  >5</text><text transform="translate(659.98,218.20) scale(0.93,1)" font-family="Liberation Serif" font-size="11.8" fill="#555555" text-anchor="middle"  >6</text><text transform="translate(391.80,203.75) scale(0.93,1)" font-family="Liberation Serif" font-size="11.8" fill="#555555" text-anchor="end"  >0.3</text><text transform="translate(391.80,176.75) scale(0.93,1)" font-family="Liberation Serif" font-size="11.8" fill="#555555" text-anchor="end"  >0.4</text><text transform="translate(391.80,149.75) scale(0.93,1)" font-family="Liberation Serif" font-size="11.8" fill="#555555" text-anchor="end"  >0.5</text><text transform="translate(391.80,122.75) scale(0.93,1)" font-family="Liberation Serif" font-size="11.8" fill="#555555" text-anchor="end"  >0.6</text><text transform="translate(391.80,95.75) scale(0.93,1)" font-family="Liberation Serif" font-size="11.8" fill="#555555" text-anchor="end"  >0.7</text><text transform="translate(391.80,68.75) scale(0.93,1)" font-family="Liberation Serif" font-size="11.8" fill="#555555" text-anchor="end"  >0.8</text><text transform="translate(391.80,41.75) scale(0.93,1)" font-family="Liberation Serif" font-size="11.8" fill="#555555" text-anchor="end"  >0.9</text><text transform="translate(391.80,14.75) scale(0.93,1)" font-family="Liberation Serif" font-size="11.8" fill="#555555" text-anchor="end"  >1.0</text><text x="536.6" y="239.3" font-size="13.5" font-style="italic" fill="#1a1a1a">z</text><g transform="translate(369.4,115) rotate(-90)" fill="#1a1a1a" font-size="14.5"><text x="0.8" y="0" font-style="italic">f</text><text x="8.7" y="0">(</text><text x="13.5" y="0" font-style="italic">z</text><text x="19.7" y="0">)</text></g><line x1="555.8" y1="49.9" x2="580.7" y2="49.9" stroke="#6a8cee" stroke-width="1.4"/><line x1="555.8" y1="73.4" x2="580.7" y2="73.4" stroke="#808080" stroke-width="1.2" stroke-dasharray="3 2.5"/><text x="588.40" y="54.10" font-family="Liberation Serif" font-size="11.3" fill="#444" text-anchor="start"  >Our model</text><text transform="translate(588.50,77.50) scale(0.96,1)" font-family="Liberation Serif" font-size="11.3" fill="#444" text-anchor="start"  >&#923;CDM</text><rect x="567.5" y="114.3" width="98.0" height="68.7" fill="#fff"/><path d="M567.89 183.00v-1.00M567.89 114.30v1.00M570.70 183.00v-1.00M570.70 114.30v1.00M573.50 183.00v-1.60M573.50 114.30v1.60M576.30 183.00v-1.00M576.30 114.30v1.00M579.11 183.00v-1.00M579.11 114.30v1.00M581.91 183.00v-1.00M581.91 114.30v1.00M584.72 183.00v-1.00M584.72 114.30v1.00M587.52 183.00v-1.60M587.52 114.30v1.60M590.32 183.00v-1.00M590.32 114.30v1.00M593.13 183.00v-1.00M593.13 114.30v1.00M595.93 183.00v-1.00M595.93 114.30v1.00M598.74 183.00v-1.00M598.74 114.30v1.00M601.54 183.00v-1.60M601.54 114.30v1.60M604.34 183.00v-1.00M604.34 114.30v1.00M607.15 183.00v-1.00M607.15 114.30v1.00M609.95 183.00v-1.00M609.95 114.30v1.00M612.76 183.00v-1.00M612.76 114.30v1.00M615.56 183.00v-1.60M615.56 114.30v1.60M618.36 183.00v-1.00M618.36 114.30v1.00M621.17 183.00v-1.00M621.17 114.30v1.00M623.97 183.00v-1.00M623.97 114.30v1.00M626.78 183.00v-1.00M626.78 114.30v1.00M629.58 183.00v-1.60M629.58 114.30v1.60M632.38 183.00v-1.00M632.38 114.30v1.00M635.19 183.00v-1.00M635.19 114.30v1.00M637.99 183.00v-1.00M637.99 114.30v1.00M640.80 183.00v-1.00M640.80 114.30v1.00M643.60 183.00v-1.60M643.60 114.30v1.60M646.40 183.00v-1.00M646.40 114.30v1.00M649.21 183.00v-1.00M649.21 114.30v1.00M652.01 183.00v-1.00M652.01 114.30v1.00M654.82 183.00v-1.00M654.82 114.30v1.00M657.62 183.00v-1.60M657.62 114.30v1.60M660.42 183.00v-1.00M660.42 114.30v1.00M663.23 183.00v-1.00M663.23 114.30v1.00M567.50 181.08h1.00M665.50 181.08h-1.00M567.50 177.76h1.00M665.50 177.76h-1.00M567.50 174.44h1.00M665.50 174.44h-1.00M567.50 171.12h1.00M665.50 171.12h-1.00M567.50 167.80h1.60M665.50 167.80h-1.60M567.50 164.48h1.00M665.50 164.48h-1.00M567.50 161.16h1.00M665.50 161.16h-1.00M567.50 157.84h1.00M665.50 157.84h-1.00M567.50 154.52h1.00M665.50 154.52h-1.00M567.50 151.20h1.60M665.50 151.20h-1.60M567.50 147.88h1.00M665.50 147.88h-1.00M567.50 144.56h1.00M665.50 144.56h-1.00M567.50 141.24h1.00M665.50 141.24h-1.00M567.50 137.92h1.00M665.50 137.92h-1.00M567.50 134.60h1.60M665.50 134.60h-1.60M567.50 131.28h1.00M665.50 131.28h-1.00M567.50 127.96h1.00M665.50 127.96h-1.00M567.50 124.64h1.00M665.50 124.64h-1.00M567.50 121.32h1.00M665.50 121.32h-1.00M567.50 118.00h1.60M665.50 118.00h-1.60M567.50 114.68h1.00M665.50 114.68h-1.00" stroke="#bbb" stroke-width="0.5" fill="none"/><line x1="573.50" y1="114.3" x2="573.50" y2="183.0" stroke="#e4e4e4" stroke-width="0.8"/><line x1="567.5" y1="118.00" x2="665.5" y2="118.00" stroke="#e4e4e4" stroke-width="0.8"/><rect x="567.5" y="114.3" width="98.0" height="68.7" fill="none" stroke="#b8b8b8" stroke-width="0.6"/><polyline points="571.82,178.77 571.86,177.61 571.90,176.48 571.94,175.38 571.98,174.30 572.02,173.24 572.05,172.21 572.09,171.20 572.13,170.21 572.17,169.24 572.21,168.29 572.25,167.37 572.29,166.46 572.33,165.57 572.37,164.70 572.41,163.85 572.45,163.02 572.49,162.21 572.53,161.41 572.57,160.63 572.61,159.87 572.65,159.12 572.69,158.38 572.73,157.67 572.77,156.96 572.81,156.28 572.85,155.60 572.88,154.94 572.92,154.29 572.96,153.66 573.00,153.04 573.04,152.43 573.08,151.84 573.12,151.25 573.16,150.68 573.20,150.12 573.24,149.57 573.28,149.03 573.32,148.50 573.36,147.99 573.40,147.48 573.44,146.98 573.48,146.49 573.52,146.02 573.56,145.55 573.60,145.09 573.64,144.64 573.68,144.20 573.71,143.76 573.75,143.34 573.79,142.92 573.83,142.51 573.87,142.11 573.91,141.72 573.95,141.33 573.99,140.95 574.03,140.58 574.07,140.22 574.11,139.86 574.15,139.51 574.19,139.16 574.23,138.83 574.27,138.49 574.31,138.17 574.35,137.85 574.39,137.54 574.43,137.23 574.47,136.92 574.50,136.63 574.54,136.34 574.58,136.05 574.62,135.77 574.66,135.49 574.70,135.22 574.74,134.96 574.78,134.70 574.82,134.44 574.86,134.19 574.90,133.94 574.94,133.70 574.98,133.46 575.02,133.23 575.06,132.99 575.10,132.77 575.14,132.55 575.18,132.33 575.22,132.11 575.26,131.90 575.30,131.70 575.33,131.49 575.37,131.29 575.41,131.10 575.45,130.90 575.49,130.71 575.53,130.53 575.57,130.34 575.61,130.16 575.65,129.98 575.69,129.81 575.73,129.64 575.77,129.47 575.81,129.31 575.85,129.14 575.89,128.98 575.93,128.82 575.97,128.67 576.01,128.52 576.05,128.37 576.09,128.22 576.13,128.08 576.16,127.93 576.20,127.79 576.24,127.66 576.28,127.52 576.32,127.39 576.36,127.26 576.40,127.13 576.44,127.00 576.48,126.88 576.52,126.75 576.56,126.63 576.60,126.51 576.64,126.40 576.68,126.28 576.72,126.17 576.76,126.06 576.80,125.95 576.84,125.84 576.88,125.73 576.92,125.63 576.96,125.53 576.99,125.42 577.03,125.32 577.07,125.23 577.11,125.13 577.15,125.03 577.19,124.94 577.23,124.85 577.27,124.76 577.31,124.67 577.35,124.58 577.39,124.49 577.43,124.41 577.47,124.32 577.51,124.24 577.55,124.16 577.59,124.08 577.63,124.00 577.67,123.92 577.71,123.85 577.71,123.85 578.15,123.07 578.59,122.40 579.03,121.84 579.47,121.36 579.91,120.95 580.35,120.60 580.79,120.29 581.23,120.03 581.67,119.80 582.11,119.60 582.55,119.42 582.99,119.27 583.43,119.14 583.87,119.02 584.31,118.91 584.75,118.82 585.19,118.74 585.63,118.67 586.07,118.61 586.51,118.55 586.95,118.50 587.39,118.45 587.83,118.41 588.27,118.38 588.71,118.34 589.15,118.31 589.59,118.29 590.04,118.26 590.48,118.24 590.92,118.22 591.36,118.20 591.80,118.19 592.24,118.17 592.68,118.16 593.12,118.15 593.56,118.14 594.00,118.13 594.44,118.12 594.88,118.11 595.32,118.10 595.76,118.09 596.20,118.09 596.64,118.08 597.08,118.08 597.52,118.07 597.96,118.07 598.40,118.06 598.84,118.06 599.28,118.05 599.72,118.05 600.16,118.05 600.60,118.04 601.04,118.04 601.48,118.04 601.92,118.04 602.36,118.03 602.80,118.03 603.24,118.03 603.69,118.03 604.13,118.03 604.57,118.03 605.01,118.02 605.45,118.02 605.89,118.02 606.33,118.02 606.77,118.02 607.21,118.02 607.65,118.02 608.09,118.02 608.53,118.02 608.97,118.01 609.41,118.01 609.85,118.01 610.29,118.01 610.73,118.01 611.17,118.01 611.61,118.01 612.05,118.01 612.49,118.01 612.93,118.01 613.37,118.01 613.81,118.01 614.25,118.01 614.69,118.01 615.13,118.01 615.57,118.01 616.01,118.01 616.45,118.01 616.90,118.01 617.34,118.01 617.78,118.01 618.22,118.01 618.66,118.00 619.10,118.00 619.54,118.00 619.98,118.00 620.42,118.00 620.86,118.00 621.30,118.00 621.74,118.00 622.18,118.00 622.62,118.00 623.06,118.00 623.50,118.00 623.94,118.00 624.38,118.00 624.82,118.00 625.26,118.00 625.70,118.00 626.14,118.00 626.58,118.00 627.02,118.00 627.46,118.00 627.90,118.00 628.34,118.00 628.78,118.00 629.22,118.00 629.66,118.00 630.10,118.00 630.55,118.00 630.99,118.00 631.43,118.00 631.87,118.00 632.31,118.00 632.75,118.00 633.19,118.00 633.63,118.00 634.07,118.00 634.51,118.00 634.95,118.00 635.39,118.00 635.83,118.00 636.27,118.00 636.71,118.00 637.15,118.00 637.59,118.00 638.03,118.00 638.47,118.00 638.91,118.00 639.35,118.00 639.79,118.00 640.23,118.00 640.67,118.00 641.11,118.00 641.55,118.00 641.99,118.00 642.43,118.00 642.87,118.00 643.31,118.00 643.75,118.00 644.20,118.00 644.64,118.00 645.08,118.00 645.52,118.00 645.96,118.00 646.40,118.00 646.84,118.00 647.28,118.00 647.72,118.00 648.16,118.00 648.60,118.00 649.04,118.00 649.48,118.00 649.92,118.00 650.36,118.00 650.80,118.00 651.24,118.00 651.68,118.00 652.12,118.00 652.56,118.00 653.00,118.00 653.44,118.00 653.88,118.00 654.32,118.00 654.76,118.00 655.20,118.00 655.64,118.00 656.08,118.00 656.52,118.00 656.96,118.00 657.41,118.00 657.85,118.00 658.29,118.00 658.73,118.00 659.17,118.00 659.61,118.00 660.05,118.00 660.49,118.00 660.93,118.00 661.37,118.00 661.81,118.00 662.25,118.00 662.69,118.00 663.13,118.00 663.57,118.00 664.01,118.00 664.45,118.00 664.89,118.00 665.33,118.00" fill="none" stroke="#939393" stroke-width="0.55"/><text x="573.50" y="188.60" font-family="Liberation Serif" font-size="4.8" fill="#505050" text-anchor="middle"  >0</text><text x="587.52" y="188.60" font-family="Liberation Serif" font-size="4.8" fill="#505050" text-anchor="middle"  >1</text><text x="601.54" y="188.60" font-family="Liberation Serif" font-size="4.8" fill="#505050" text-anchor="middle"  >2</text><text x="615.56" y="188.60" font-family="Liberation Serif" font-size="4.8" fill="#505050" text-anchor="middle"  >3</text><text x="629.58" y="188.60" font-family="Liberation Serif" font-size="4.8" fill="#505050" text-anchor="middle"  >4</text><text x="643.60" y="188.60" font-family="Liberation Serif" font-size="4.8" fill="#505050" text-anchor="middle"  >5</text><text x="657.62" y="188.60" font-family="Liberation Serif" font-size="4.8" fill="#505050" text-anchor="middle"  >6</text><text x="566.60" y="119.60" font-family="Liberation Serif" font-size="4.8" fill="#505050" text-anchor="end"  >0.00</text><text x="566.60" y="136.20" font-family="Liberation Serif" font-size="4.8" fill="#505050" text-anchor="end"  >-0.05</text><text x="566.60" y="152.80" font-family="Liberation Serif" font-size="4.8" fill="#505050" text-anchor="end"  >-0.10</text><text x="566.60" y="169.40" font-family="Liberation Serif" font-size="4.8" fill="#505050" text-anchor="end"  >-0.15</text><text x="617" y="195.8" font-family="Liberation Serif" font-size="5" font-style="italic" fill="#777" text-anchor="middle">z</text><text transform="translate(555.2,148) rotate(-90)" font-family="Liberation Serif" font-size="5.4" fill="#777" text-anchor="middle">[f(z) &#8722; f<tspan font-size="4.4">&#923;CDM</tspan>(z)]/f(z)</text></svg>
</body></html>
